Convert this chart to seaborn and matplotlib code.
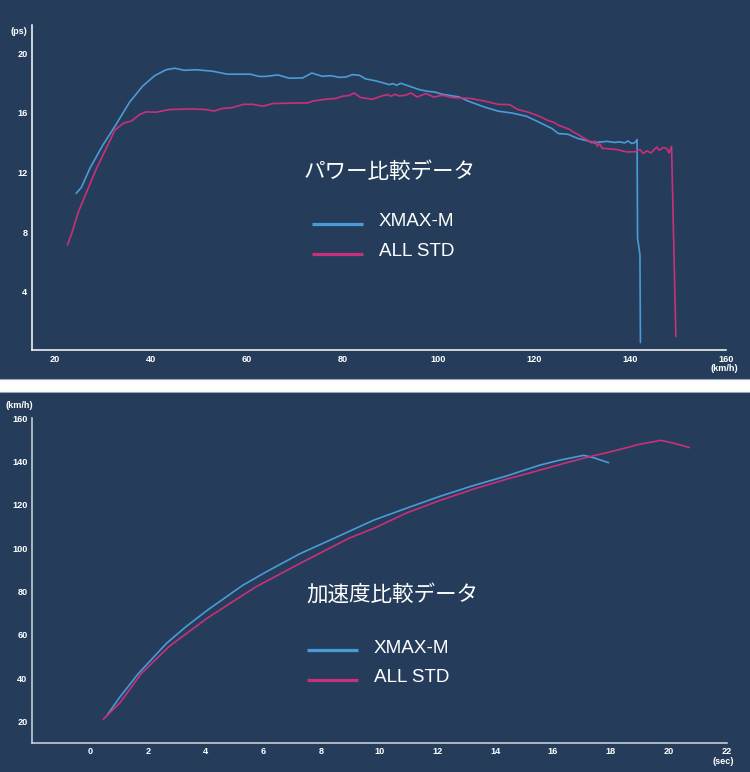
import matplotlib
matplotlib.use("Agg")
import matplotlib.pyplot as plt
from matplotlib.patches import Rectangle
from matplotlib.lines import Line2D
import seaborn as sns
import pandas as pd

# ---------------- data ----------------
series_names = ["XMAX-M", "ALL STD"]
title_power = "パワー比較データ"
title_accel = "加速度比較データ"

power_x_ticks = [20, 40, 60, 80, 100, 120, 140, 160]
power_y_ticks = [4, 8, 12, 16, 20]
accel_x_ticks = [0, 2, 4, 6, 8, 10, 12, 14, 16, 18, 20, 22]
accel_y_ticks = [20, 40, 60, 80, 100, 120, 140, 160]

# power curve (km/h -> ps)
xmax_speed = [24.4, 25.5, 27.3, 30.0, 32.5, 35.6, 38.3, 40.8, 43.2, 45.0, 47.0, 49.4,
              52.9, 56.0, 60.8, 62.6, 64.0, 66.5, 68.9, 71.7, 73.6, 75.8, 77.6, 79.3,
              80.7, 82.1, 83.5, 84.9, 87.0, 88.7, 89.8, 90.5, 91.3, 92.2, 94.0, 96.0,
              97.8, 99.2, 100.9, 104.4, 106.2, 109.6, 112.5, 115.3, 118.4, 120.9, 123.7,
              125.1, 127.1, 129.1, 131.3, 132.7, 133.7, 134.4, 135.1, 136.8, 137.9,
              138.9, 139.6, 140.4, 141.1, 141.5, 141.6, 142.1, 142.2]
xmax_power = [10.6, 11.0, 12.3, 13.85, 15.1, 16.74, 17.8, 18.5, 18.9, 19.0, 18.86, 18.9,
              18.8, 18.6, 18.6, 18.45, 18.45, 18.55, 18.33, 18.35, 18.68, 18.46, 18.5, 18.39,
              18.41, 18.57, 18.53, 18.28, 18.15, 18.0, 17.9, 17.97, 17.86, 17.99, 17.79, 17.57,
              17.45, 17.41, 17.25, 17.07, 16.8, 16.4, 16.12, 16.0, 15.78, 15.4, 14.96,
              14.62, 14.57, 14.29, 14.12, 13.99, 14.06, 14.06, 14.1, 14.02, 14.06,
              13.99, 14.12, 13.95, 14.02, 14.22, 7.6, 6.5, 0.6]

std_speed = [22.6, 23.5, 24.9, 26.6, 28.7, 30.8, 32.5, 34.2, 36.0, 37.7, 39.0, 41.1,
             43.9, 48.7, 51.5, 53.2, 54.9, 57.0, 59.4, 61.3, 63.4, 65.4, 70.3, 72.7,
             73.8, 76.5, 78.6, 80.0, 81.4, 82.4, 83.8, 86.3, 88.0, 89.4, 90.1, 91.0,
             91.8, 93.2, 94.3, 95.6, 97.4, 99.1, 100.9, 103.0, 106.9, 109.6, 112.5,
             114.9, 116.6, 119.0, 121.1, 122.8, 124.2, 125.1, 126.4, 127.4, 128.1,
             129.1, 130.2, 131.3, 132.0, 132.7, 133.2, 133.7, 134.2, 134.8, 137.2,
             139.3, 141.0, 142.1, 142.8, 143.5, 144.4, 145.6, 146.1, 147.0, 147.7,
             148.2, 148.7, 149.2, 149.6]
std_power = [7.15, 7.93, 9.38, 10.7, 12.3, 13.7, 14.85, 15.3, 15.47, 15.9, 16.07, 16.05,
             16.23, 16.27, 16.23, 16.13, 16.3, 16.36, 16.58, 16.58, 16.45, 16.63, 16.67, 16.67,
             16.8, 16.92, 16.97, 17.12, 17.17, 17.34, 17.03, 16.92, 17.12, 17.23, 17.12, 17.25,
             17.14, 17.19, 17.34, 17.07, 17.3, 17.07, 17.19, 17.03, 16.97, 16.8, 16.58,
             16.56, 16.23, 16.03, 15.78, 15.51, 15.36, 15.18, 15.02, 14.9, 14.73,
             14.57, 14.35, 14.15, 13.98, 14.12, 13.76, 13.95, 13.62, 13.62, 13.55,
             13.39, 13.39, 13.55, 13.28, 13.46, 13.32, 13.72, 13.5, 13.68, 13.62,
             13.32, 13.76, 6.6, 1.0]

# acceleration curve (sec -> km/h)
xmax_time = [0.6, 1.03, 1.66, 2.64, 3.33, 4.07, 5.28, 6.08, 7.23, 8.37, 9.81, 10.96,
             12.1, 13.14, 14.4, 15.55, 16.24, 17.06, 17.38, 17.92]
xmax_kmh = [23.0, 31.2, 41.9, 56.0, 63.9, 71.5, 82.9, 89.0, 97.3, 104.2, 113.0, 118.6,
            124.0, 128.5, 133.4, 138.4, 140.7, 142.9, 141.9, 139.5]
std_time = [0.46, 1.03, 1.78, 2.75, 4.02, 4.93, 5.74, 7.23, 8.95, 9.81, 10.96, 12.1,
            13.25, 14.4, 15.55, 16.47, 17.15, 18.07, 18.99, 19.73, 20.14, 20.71]
std_kmh = [21.0, 28.5, 42.2, 54.8, 67.4, 75.3, 82.2, 92.8, 104.6, 109.2, 116.4, 122.1,
           127.3, 131.9, 136.1, 139.5, 141.9, 144.8, 148.0, 149.8, 148.6, 146.5]

# ---------------- style ----------------
BG = "#253d5b"
BLUE = "#4a9bd6"
PINK = "#c9307a"
palette = {series_names[0]: BLUE, series_names[1]: PINK}

sns.set_theme(style="white")
plt.rcParams["font.family"] = ["Liberation Sans", "Noto Sans CJK JP", "DejaVu Sans"]

power_df = pd.concat([
    pd.DataFrame({"speed": xmax_speed, "power": xmax_power, "model": series_names[0]}),
    pd.DataFrame({"speed": std_speed, "power": std_power, "model": series_names[1]}),
], ignore_index=True)
accel_df = pd.concat([
    pd.DataFrame({"time": xmax_time, "kmh": xmax_kmh, "model": series_names[0]}),
    pd.DataFrame({"time": std_time, "kmh": std_kmh, "model": series_names[1]}),
], ignore_index=True)

W, H = 750, 772
fig = plt.figure(figsize=(W / 100, H / 100), dpi=100, facecolor="white")

def fx(px):
    return px / W

def fy(py):
    return 1 - py / H

# panel backgrounds
fig.patches.append(Rectangle((0, fy(379)), 1, 379 / H, transform=fig.transFigure,
                             facecolor=BG, edgecolor="none", zorder=-10))
fig.patches.append(Rectangle((0, 0), 1, (H - 392) / H, transform=fig.transFigure,
                             facecolor=BG, edgecolor="none", zorder=-10))
fig.add_artist(Line2D([0, 1], [fy(379), fy(379)], color="#9aa6b6", lw=0.8))
fig.add_artist(Line2D([0, 1], [fy(392), fy(392)], color="#9aa6b6", lw=0.8))

ax1 = fig.add_axes([fx(32), fy(350), fx(725.7) - fx(32), fy(25) - fy(350)])
ax2 = fig.add_axes([fx(32), fy(742.7), fx(726.7) - fx(32), fy(418.3) - fy(742.7)])

sns.lineplot(data=power_df, x="speed", y="power", hue="model", palette=palette,
             sort=False, estimator=None, lw=1.2, ax=ax1, legend=False)
sns.lineplot(data=accel_df, x="time", y="kmh", hue="model", palette=palette,
             sort=False, estimator=None, lw=1.2, ax=ax2, legend=False)

ax1.set_xlim(15.2, 159.4)
ax1.set_ylim(0.1, 21.9)
ax2.set_xlim(-2.0, 21.9)
ax2.set_ylim(10.2, 158.2)

tick_font = dict(fontsize=6.6, fontweight="bold", color="white")
for ax, xt, yt, spine_col in [(ax1, power_x_ticks, power_y_ticks, "white"),
                              (ax2, accel_x_ticks, accel_y_ticks, "#d4d8de")]:
    ax.set_facecolor("none")
    ax.set_xticks(xt)
    ax.set_yticks(yt)
    ax.set_xticklabels([str(v) for v in xt], **tick_font)
    ax.set_yticklabels([str(v) for v in yt], **tick_font)
    ax.tick_params(length=0, pad=3.3)
    ax.set_xlabel("")
    ax.set_ylabel("")
    ax.grid(False)
    for s in ["top", "right"]:
        ax.spines[s].set_visible(False)
    for s in ["left", "bottom"]:
        ax.spines[s].set_color(spine_col)
        ax.spines[s].set_linewidth(1.1)

# unit labels
unit_font = dict(fontsize=6.6, fontweight="bold", color="white")
fig.text(fx(27.3), fy(31), "(ps)", ha="right", va="center", **unit_font)
fig.text(fx(738), fy(369), "(km/h)", ha="right", va="center", **unit_font)
fig.text(fx(32.7), fy(405.7), "(km/h)", ha="right", va="center", **unit_font)
fig.text(fx(734), fy(761.7), "(sec)", ha="right", va="center", **unit_font)

# titles and legends
cjk = ["Noto Sans CJK JP", "DejaVu Sans"]
fig.text(fx(304), fy(171.7), title_power, ha="left", va="center", fontsize=15.5,
         color="white", family=cjk)
fig.text(fx(306), fy(595), title_accel, ha="left", va="center", fontsize=15.5,
         color="white", family=cjk)

def legend(x0, x1, ys, xt, yts):
    for name, y, yt in zip(series_names, ys, yts):
        fig.add_artist(Line2D([fx(x0), fx(x1)], [fy(y), fy(y)], color=palette[name],
                              lw=2.3, solid_capstyle="butt"))
        fig.text(fx(xt), fy(yt), name, ha="left", va="center", fontsize=13.6,
                 color="white", family=["Liberation Sans", "DejaVu Sans"])

legend(311.7, 363.3, [224.3, 253.7], 378.5, [222, 251.5])
legend(306.7, 357.7, [650.3, 679.7], 373.5, [648.3, 677.5])

fig.savefig("out.png", dpi=100, facecolor="white")
